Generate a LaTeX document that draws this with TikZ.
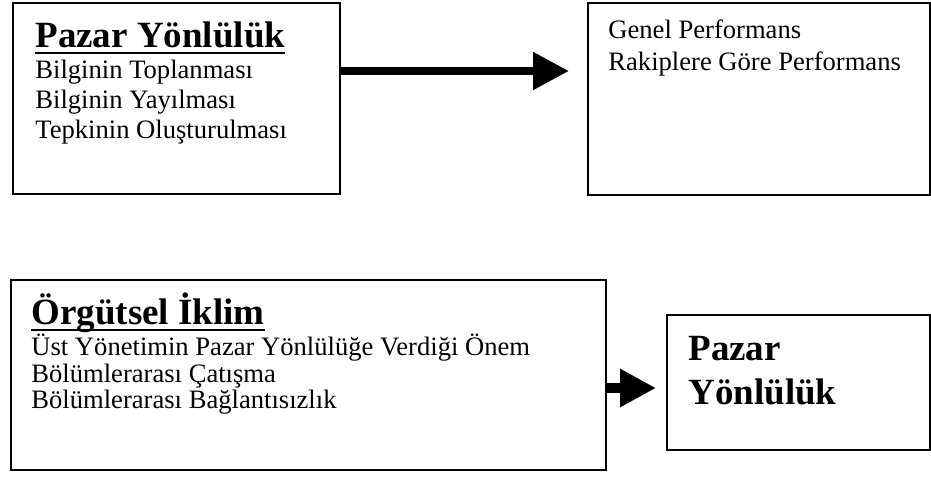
\documentclass[tikz,border=0pt]{standalone}
\usepackage{fontspec}
\setmainfont{Liberation Serif}
\usetikzlibrary{arrows.meta}
\newsavebox{\ulsave}
\newcommand{\ulined}[1]{\sbox{\ulsave}{#1}\rlap{\rule[-3.5pt]{\wd\ulsave}{1pt}}\usebox{\ulsave}}

\begin{document}
\begin{tikzpicture}[x=0.5pt, y=-0.5pt,
  box/.style = {draw, line width=1pt, inner sep=0pt},
  head/.style = {font=\fontsize{18.5pt}{20pt}\selectfont\bfseries, anchor=base west, inner sep=0pt},
  item/.style = {font=\fontsize{13.3pt}{15pt}\selectfont, anchor=base west, inner sep=0pt},
  fat/.style = {-{Triangle[length=18pt, width=18pt]}}]
\useasboundingbox (0,0) rectangle (931,477);

% boxes
\node[box, minimum width=163.5pt, minimum height=95.5pt] (pazar) at (176.5,98.5) {};
\node[box, minimum width=171pt, minimum height=96pt] (perf) at (759,99) {};
\node[box, minimum width=297.5pt, minimum height=95pt] (iklim) at (308.5,375) {};
\node[box, minimum width=131.5pt, minimum height=67.5pt] (sonuc) at (798.5,382.5) {};

% texts
\node[head] (t1) at (35,47) {\ulined{Pazar Yönlülük}};
\node[item] (t1a) at (35,78) {Bilginin Toplanması};
\node[item] (t1b) at (35,108) {Bilginin Yayılması};
\node[item] (t1c) at (35,138) {Tepkinin Oluşturulması};

\node[item] (t2a) at (608,38) {Genel Performans};
\node[item] (t2b) at (608,70) {Rakiplere Göre Performans};

\node[head] (t3) at (31,324) {\ulined{Örgütsel İklim}};
\node[item] (t3a) at (31,355) {Üst Yönetimin Pazar Yönlülüğe Verdiği Önem};
\node[item] (t3b) at (31,382) {Bölümlerarası Çatışma};
\node[item] (t3c) at (31,408) {Bölümlerarası Bağlantısızlık};

\node[head] (t4a) at (688,360) {Pazar};
\node[head] (t4b) at (688,404) {Yönlülük};

% arrows
\coordinate (y1) at (0,71);
\coordinate (y2) at (0,388);
\draw[fat, line width=4pt, shorten >=9pt] (pazar.east |- y1) -- (perf.west |- y1);
\draw[fat, line width=5pt, shorten >=5pt] (iklim.east |- y2) -- (sonuc.west |- y2);

\end{tikzpicture}
\end{document}
